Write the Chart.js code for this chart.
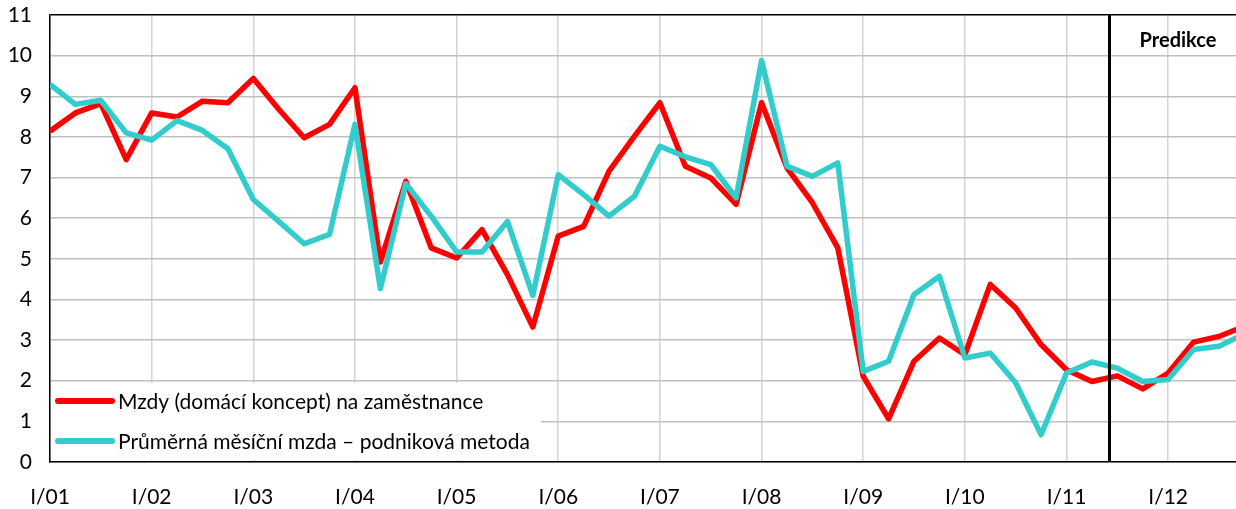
<!DOCTYPE html>
<html>
<head>
<meta charset="utf-8">
<script src="https://cdn.jsdelivr.net/npm/chart.js@4"></script>
<style>
  html, body { margin: 0; padding: 0; background: #fff; }
  #wrap { width: 1236px; height: 509px; position: relative; }
</style>
</head>
<body>
<div id="wrap"><canvas id="chart"></canvas></div>
<script>
// quarterly data, I/01 .. IV/12
const yearLabels = ['I/01', 'I/02', 'I/03', 'I/04', 'I/05', 'I/06', 'I/07', 'I/08', 'I/09', 'I/10', 'I/11', 'I/12'];
const wagesDomestic = [
  8.14, 8.59, 8.82, 7.44, 8.59, 8.49, 8.88, 8.84, 9.44, 8.68, 7.98, 8.31,
  9.21, 4.92, 6.91, 5.27, 5.02, 5.72, 4.61, 3.32, 5.56, 5.80, 7.16, 8.02,
  8.84, 7.28, 6.99, 6.34, 8.84, 7.24, 6.38, 5.27, 2.11, 1.06, 2.48, 3.05,
  2.64, 4.37, 3.79, 2.89, 2.27, 1.98, 2.12, 1.80, 2.19, 2.95, 3.09, 3.34
];
const wagesMonthly = [
  9.29, 8.80, 8.90, 8.10, 7.92, 8.40, 8.16, 7.71, 6.46, 5.92, 5.37, 5.60,
  8.31, 4.27, 6.85, 6.05, 5.17, 5.17, 5.92, 4.10, 7.07, 6.58, 6.05, 6.54,
  7.77, 7.51, 7.32, 6.50, 9.88, 7.28, 7.03, 7.36, 2.23, 2.48, 4.12, 4.57,
  2.56, 2.68, 1.95, 0.67, 2.19, 2.46, 2.31, 1.98, 2.03, 2.77, 2.85, 3.15
];
const seriesNames = ['Mzdy (domácí koncept) na zaměstnance', 'Průměrná měsíční mzda – podniková metoda'];
const forecastAt = 41.68;   // quarter index where prediction starts
const forecastLabel = 'Predikce';

const RED = '#ff0000';
const TEAL = '#33cccc';
const FONT = 'Lato, "Open Sans", sans-serif';

const toPoints = arr => arr.map((v, i) => ({ x: i, y: v }));

const overlay = {
  id: 'overlay',
  beforeDatasetsDraw(chart) {
    const { ctx, chartArea: a } = chart;
    ctx.save();
    // legend box sits over the grid
    ctx.fillStyle = '#fff';
    ctx.fillRect(a.left + 1, 383, 490, 77);
    const items = [[RED, seriesNames[0], 401], [TEAL, seriesNames[1], 441]];
    ctx.lineCap = 'round';
    ctx.lineWidth = 6;
    ctx.font = '21px ' + FONT;
    ctx.textBaseline = 'middle';
    ctx.fillStyle = '#000';
    items.forEach(([c, t, y]) => {
      ctx.strokeStyle = c;
      ctx.beginPath();
      ctx.moveTo(a.left + 8, y);
      ctx.lineTo(a.left + 62, y);
      ctx.stroke();
      ctx.fillText(t, a.left + 68, y + 1);
    });
    ctx.restore();
  },
  afterDatasetsDraw(chart) {
    const { ctx, chartArea: a, scales } = chart;
    const x = Math.round(scales.x.getPixelForValue(forecastAt)) + 0.5;
    ctx.save();
    ctx.strokeStyle = '#000';
    ctx.lineWidth = 3;
    ctx.beginPath();
    ctx.moveTo(x, a.top);
    ctx.lineTo(x, a.bottom);
    ctx.stroke();
    ctx.font = 'bold 20px ' + FONT;
    ctx.fillStyle = '#000';
    ctx.textAlign = 'center';
    ctx.textBaseline = 'middle';
    ctx.fillText(forecastLabel, 1178, 41);
    ctx.restore();
  }
};

new Chart(document.getElementById('chart'), {
  type: 'line',
  data: {
    datasets: [
      {
        label: seriesNames[1],
        data: toPoints(wagesMonthly),
        borderColor: TEAL,
        borderWidth: 5.5,
        pointRadius: 0,
        tension: 0,
        borderJoinStyle: 'round',
        order: 0
      },
      {
        label: seriesNames[0],
        data: toPoints(wagesDomestic),
        borderColor: RED,
        borderWidth: 5.5,
        pointRadius: 0,
        tension: 0,
        borderJoinStyle: 'round',
        order: 1
      }
    ]
  },
  options: {
    responsive: true,
    maintainAspectRatio: false,
    animation: false,
    layout: { padding: { top: 15, right: 0, left: 0, bottom: 0 } },
    plugins: { legend: { display: false }, tooltip: { enabled: false } },
    scales: {
      x: {
        type: 'linear',
        min: 0,
        max: 46.67,
        afterFit: s => { s.height = 47; s.paddingLeft = 0; s.paddingRight = 0; },
        afterBuildTicks: s => { s.ticks = yearLabels.map((_, i) => ({ value: i * 4 })); },
        ticks: {
          padding: 23,
          color: '#000',
          font: { family: FONT, size: 21 },
          maxRotation: 0,
          autoSkip: false,
          callback: v => yearLabels[v / 4]
        },
        grid: { color: '#d4d4d4', lineWidth: 1.5, drawTicks: false },
        border: { color: '#000', width: 1.5 }
      },
      y: {
        min: 0,
        max: 11,
        afterFit: s => { s.width = 50; s.paddingTop = 0; s.paddingBottom = 0; },
        ticks: {
          stepSize: 1,
          padding: 18,
          color: '#000',
          font: { family: FONT, size: 21 }
        },
        grid: {
          color: c => c.tick.value === 11 ? '#000' : '#c0c0c0',
          lineWidth: 1.5,
          drawTicks: false
        },
        border: { color: '#000', width: 1.5 }
      }
    }
  },
  plugins: [overlay]
});
</script>
</body>
</html>
